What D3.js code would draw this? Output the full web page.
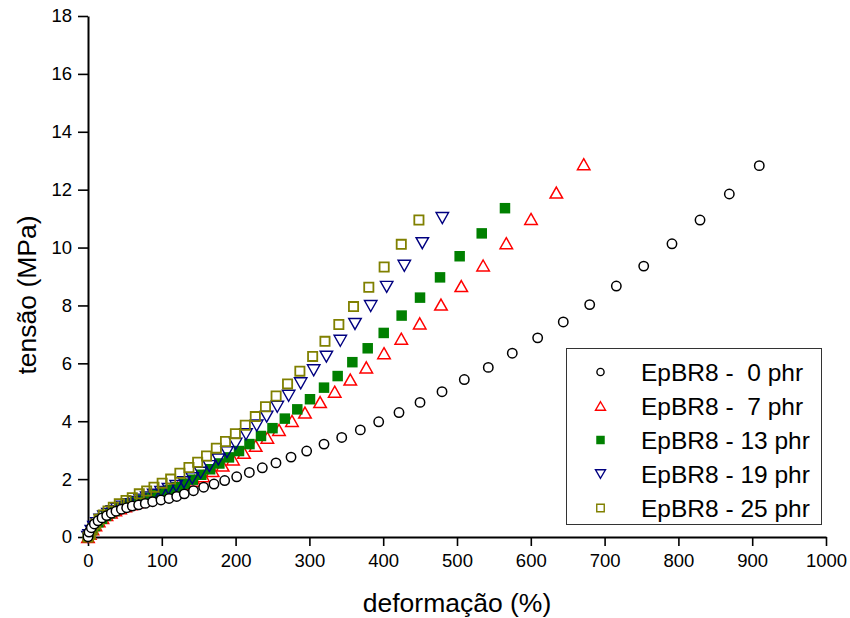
<!DOCTYPE html>
<html>
<head>
<meta charset="utf-8">
<script src="https://cdn.jsdelivr.net/npm/d3@7/dist/d3.min.js"></script>
<style>
  html, body { margin: 0; padding: 0; background: #fff; }
  svg { display: block; }
  text { font-family: "Liberation Sans", Arial, sans-serif; fill: #000; }
</style>
</head>
<body>
<svg id="chart" width="850" height="618"></svg>
<script>
// Stress–strain data, EpBR8 with increasing filler content (phr)
const strain0 = [0,1.4,4.5,8.6,13.6,19,25.3,31.6,37.9,45.2,52.4,60,68.6,77.6,87.6,98.9,109.8,120.2,130.5,142.9,156.7,170.7,185.2,201.5,218.6,236.2,254.7,275.1,296.3,319.8,343.8,369,393.9,421.4,449.9,479.7,509.9,542.4,574.9,609.3,644,679.8,715.9,753,791.3,829.3,869,909.6];
const stress0 = [0.01,0.17,0.32,0.45,0.56,0.66,0.74,0.82,0.89,0.96,1.01,1.07,1.11,1.16,1.22,1.28,1.33,1.40,1.49,1.60,1.72,1.83,1.95,2.08,2.23,2.39,2.56,2.76,2.97,3.21,3.44,3.70,3.98,4.30,4.65,5.02,5.44,5.86,6.35,6.88,7.43,8.03,8.67,9.36,10.13,10.95,11.85,12.83];

const strain7 = [0,2.5,6,10,14.5,19.5,25,31,37,43.5,50.5,58,66,74,82.5,91.5,101,111,121.5,132.5,144,156,169,182.5,196.5,211.4,227.2,243,258.8,276.4,294,314.5,334.3,355.4,377.1,401.1,424.5,449.5,478.3,505.8,535.4,566.8,600.3,634.6,671.7];
const stress7 = [0,0.11,0.27,0.41,0.54,0.66,0.76,0.85,0.92,0.99,1.06,1.13,1.20,1.27,1.34,1.42,1.52,1.61,1.71,1.82,1.94,2.10,2.28,2.47,2.68,2.91,3.15,3.43,3.70,4.01,4.30,4.66,5.02,5.44,5.86,6.35,6.85,7.38,8.03,8.67,9.38,10.15,10.99,11.90,12.88];

const strain13 = [0,2,5.5,9.5,14,19,24.5,30,36,42.5,49.5,57,65,73.5,82,91,100.5,110.5,120.5,131,142,153.5,165.5,178,191,204.6,218.8,234.4,250,266.7,283.6,300.8,319.8,338.3,358.2,379,400.7,425,449.9,477,503.6,533.5,565];
const stress13 = [0,0.08,0.24,0.38,0.51,0.63,0.73,0.82,0.90,0.98,1.06,1.13,1.21,1.28,1.36,1.44,1.53,1.62,1.72,1.84,1.98,2.15,2.34,2.54,2.75,2.97,3.21,3.49,3.76,4.09,4.41,4.76,5.16,5.56,6.04,6.52,7.05,7.65,8.27,8.97,9.70,10.49,11.36];

const strain19 = [0,1.5,4.5,8,12,16.5,21.5,27,33,39.5,46.5,54,62,70.5,79.5,89,99,109,119.5,130,141.3,152.7,164.4,176.6,188.3,200,214.1,228.6,242.1,256.5,271.9,288.2,305.8,323,341.9,361.8,383.1,404.7,428.6,453,480.1];
const stress19 = [0,0.06,0.21,0.35,0.48,0.60,0.71,0.80,0.89,0.97,1.05,1.13,1.21,1.29,1.37,1.46,1.56,1.66,1.76,1.89,2.03,2.22,2.45,2.68,2.93,3.22,3.55,3.85,4.16,4.50,4.88,5.31,5.76,6.23,6.78,7.36,7.98,8.64,9.37,10.15,11.02];

const strain25 = [0,3.1,6.4,10.4,14.9,20.7,27.1,34.3,42.4,51.5,60,69.5,79.5,89.4,100.5,112,124.5,136.8,148.6,160.6,173.9,186.3,199.7,213.1,226.7,240.5,254.9,270.4,287.1,304.4,321.1,339.9,359.8,380.5,401.3,424.5,448.4];
const stress25 = [0,0.09,0.27,0.45,0.61,0.76,0.90,1.03,1.15,1.26,1.36,1.49,1.59,1.72,1.86,2.00,2.20,2.40,2.58,2.80,3.07,3.30,3.57,3.86,4.16,4.50,4.87,5.29,5.73,6.24,6.76,7.34,7.96,8.63,9.33,10.11,10.95];

const seriesLabels = ["EpBR8 -  0 phr", "EpBR8 -  7 phr", "EpBR8 - 13 phr", "EpBR8 - 19 phr", "EpBR8 - 25 phr"];
const xTicks = [0,100,200,300,400,500,600,700,800,900,1000];
const xMinorTicks = [50,150,250,350,450,550,650,750,850,950];
const yTicks = [0,2,4,6,8,10,12,14,16,18];
const yMinorTicks = [1,3,5,7,9,11,13,15,17];
const xTitle = "deformação (%)";
const yTitle = "tensão (MPa)";

const svg = d3.select("#chart");
const x = d3.scaleLinear().domain([0, 1000]).range([88, 826]);
const y = d3.scaleLinear().domain([0, 18]).range([537, 16]);

// marker shapes, centred on their bounding box
const shapes = {
  circle: r => `M${-r},0A${r},${r} 0 1,0 ${r},0A${r},${r} 0 1,0 ${-r},0Z`,
  up: (w, h) => `M0,${-h/2}L${w/2},${h/2}L${-w/2},${h/2}Z`,
  down: (w, h) => `M0,${h/2}L${w/2},${-h/2}L${-w/2},${-h/2}Z`,
  square: s => `M${-s/2},${-s/2}H${s/2}V${s/2}H${-s/2}Z`
};

const series = [
  { name: seriesLabels[1], xs: strain7,  ys: stress7,  path: shapes.up(12.5, 11),   lpath: shapes.up(10, 8.5),  stroke: "#ff0000", fill: "none",    sw: 1.5 },
  { name: seriesLabels[2], xs: strain13, ys: stress13, path: shapes.square(10.5),   lpath: shapes.square(8.5), stroke: "none",    fill: "#008000", sw: 0 },
  { name: seriesLabels[3], xs: strain19, ys: stress19, path: shapes.down(12.5, 11), lpath: shapes.down(10, 8.5), stroke: "#000080", fill: "none",   sw: 1.4 },
  { name: seriesLabels[4], xs: strain25, ys: stress25, path: shapes.square(9.2),    lpath: shapes.square(7.5), stroke: "#808000", fill: "none",    sw: 1.8 },
  { name: seriesLabels[0], xs: strain0,  ys: stress0,  path: shapes.circle(4.7),    lpath: shapes.circle(3.6), stroke: "#000000", fill: "#ffffff", sw: 1.5 }
];

// axes
const axisFont = g => g.selectAll("text")
  .style("font-family", "'Liberation Sans', Arial, sans-serif")
  .style("font-size", "18.5px")
  .attr("fill", "#000");

const gx = svg.append("g").attr("transform", `translate(0,${y(0)})`);
gx.call(d3.axisBottom(x).tickValues(xMinorTicks).tickSize(5).tickSizeOuter(0).tickFormat(""));
gx.call(d3.axisBottom(x).tickValues(xTicks).tickSize(9).tickSizeOuter(0).tickPadding(8).tickFormat(d3.format("d")));
gx.selectAll(".domain").attr("stroke", "#000").attr("stroke-width", 2);
gx.selectAll(".tick line").attr("stroke", "#000").attr("stroke-width", 1.6);
gx.call(axisFont);

const gy = svg.append("g").attr("transform", `translate(${x(0)},0)`);
gy.call(d3.axisLeft(y).tickValues(yMinorTicks).tickSize(6).tickSizeOuter(0).tickFormat(""));
gy.call(d3.axisLeft(y).tickValues(yTicks).tickSize(10).tickSizeOuter(0).tickPadding(6).tickFormat(d3.format("d")));
gy.selectAll(".domain").attr("stroke", "#000").attr("stroke-width", 2);
gy.selectAll(".tick line").attr("stroke", "#000").attr("stroke-width", 1.6);
gy.call(axisFont);

// axis titles
svg.append("text")
  .attr("x", 457).attr("y", 612)
  .attr("text-anchor", "middle")
  .style("font-size", "26.5px")
  .text(xTitle);

svg.append("text")
  .attr("transform", "translate(36,295) rotate(-90)")
  .attr("text-anchor", "middle")
  .style("font-size", "26.5px")
  .text(yTitle);

// data markers
const plot = svg.append("g");
series.forEach(s => {
  plot.append("g")
    .selectAll("path")
    .data(s.xs.map((v, i) => [v, s.ys[i]]))
    .join("path")
    .attr("transform", d => `translate(${x(d[0])},${y(d[1])})`)
    .attr("d", s.path)
    .attr("fill", s.fill)
    .attr("stroke", s.stroke)
    .attr("stroke-width", s.sw)
    .attr("stroke-linejoin", "miter");
});

// legend
const lg = svg.append("g");
lg.append("rect")
  .attr("x", 566.5).attr("y", 348.5)
  .attr("width", 255).attr("height", 176)
  .attr("fill", "#fff").attr("stroke", "#333").attr("stroke-width", 1);

const legendOrder = [series[4], series[0], series[1], series[2], series[3]];
legendOrder.forEach((s, i) => {
  const cy = 372 + i * 34;
  lg.append("path")
    .attr("transform", `translate(600.5,${cy})`)
    .attr("d", s.lpath)
    .attr("fill", s.fill)
    .attr("stroke", s.stroke)
    .attr("stroke-width", s.sw ? Math.min(s.sw, 1.4) : 0);
  lg.append("text")
    .attr("x", 641).attr("y", cy + 8.5)
    .style("font-size", "24.5px")
    .style("white-space", "pre")
    .text(s.name);
});
</script>
</body>
</html>
